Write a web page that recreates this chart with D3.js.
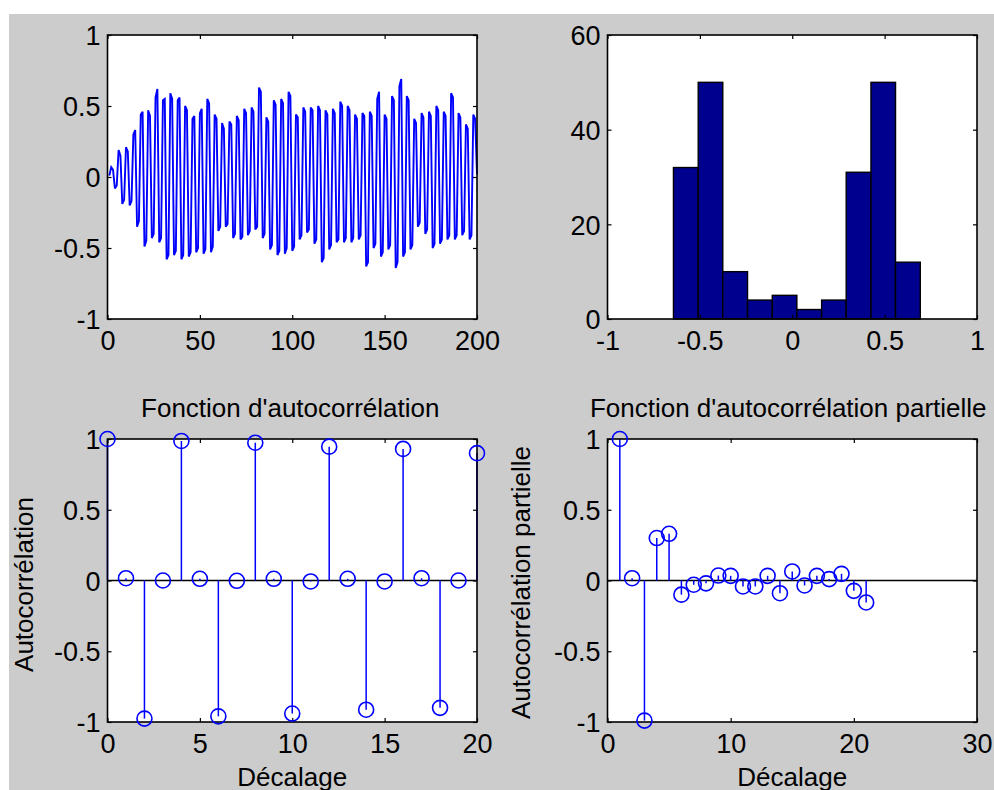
<!DOCTYPE html>
<html>
<head>
<meta charset="utf-8">
<title>Signal, histogramme et autocorrélations</title>
<script src="https://cdn.jsdelivr.net/npm/d3@7/dist/d3.min.js"></script>
<style>
body { margin: 0; background: #fff; }
svg { display: block; }
text { font-family: "Liberation Sans", Arial, Helvetica, sans-serif; font-size: 26px; fill: #000; }
.tick text { font-size: 27px; }
</style>
</head>
<body>
<svg id="fig" width="994" height="790"></svg>
<script>

// signal (200 samples)
var signal = [
  0.01,
  0.07, 0.05, -0.08, -0.06,
  0.19, 0.15, -0.19, -0.16,
  0.21, 0.18, -0.20, -0.17,
  0.30, 0.33, -0.35, -0.31,
  0.44, 0.46, -0.49, -0.45,
  0.47, 0.43, -0.43, -0.40,
  0.56, 0.62, -0.46, -0.43,
  0.54, 0.55, -0.58, -0.55,
  0.59, 0.55, -0.55, -0.52,
  0.54, 0.56, -0.58, -0.55,
  0.50, 0.47, -0.56, -0.53,
  0.41, 0.43, -0.53, -0.50,
  0.45, 0.48, -0.54, -0.51,
  0.55, 0.52, -0.53, -0.49,
  0.44, 0.41, -0.38, -0.35,
  0.38, 0.34, -0.35, -0.33,
  0.39, 0.37, -0.43, -0.40,
  0.43, 0.40, -0.44, -0.42,
  0.48, 0.45, -0.41, -0.38,
  0.49, 0.46, -0.37, -0.35,
  0.63, 0.60, -0.43, -0.40,
  0.42, 0.39, -0.51, -0.48,
  0.54, 0.51, -0.55, -0.52,
  0.55, 0.52, -0.54, -0.50,
  0.60, 0.57, -0.52, -0.49,
  0.44, 0.42, -0.44, -0.41,
  0.49, 0.46, -0.39, -0.37,
  0.49, 0.47, -0.47, -0.44,
  0.50, 0.47, -0.60, -0.57,
  0.47, 0.44, -0.51, -0.48,
  0.48, 0.45, -0.46, -0.44,
  0.53, 0.50, -0.46, -0.43,
  0.50, 0.47, -0.46, -0.43,
  0.44, 0.41, -0.44, -0.41,
  0.45, 0.43, -0.63, -0.60,
  0.46, 0.43, -0.50, -0.47,
  0.55, 0.60, -0.56, -0.53,
  0.44, 0.41, -0.51, -0.48,
  0.57, 0.54, -0.64, -0.60,
  0.64, 0.69, -0.56, -0.53,
  0.57, 0.54, -0.51, -0.48,
  0.41, 0.38, -0.35, -0.32,
  0.45, 0.42, -0.40, -0.37,
  0.46, 0.43, -0.50, -0.47,
  0.50, 0.47, -0.47, -0.44,
  0.46, 0.43, -0.44, -0.41,
  0.59, 0.56, -0.44, -0.41,
  0.45, 0.42, -0.41, -0.38,
  0.37, 0.34, -0.44, -0.41,
  0.44, 0.41,
  0.02
];

// histogram of the signal
var histEdges = [-0.643, -0.509, -0.376, -0.242, -0.108, 0.025, 0.159, 0.292, 0.426, 0.559, 0.693];
var histCounts = [32, 50, 10, 4, 5, 2, 4, 31, 50, 12];

// autocorrelation, lags 0..20
var acfLags = d3.range(0, 21);
var acfValues = [1.00, 0.016, -0.976, 0.00, 0.986, 0.012, -0.96, -0.002, 0.974, 0.012, -0.94,
                 -0.007, 0.946, 0.012, -0.913, -0.007, 0.93, 0.016, -0.90, 0.00, 0.90];

// partial autocorrelation, plotted at 1..21
var pacfLags = d3.range(1, 22);
var pacfValues = [1.00, 0.016, -0.99, 0.30, 0.33, -0.10, -0.03, -0.02, 0.035, 0.033, -0.042,
                  -0.042, 0.033, -0.09, 0.064, -0.035, 0.033, 0.01, 0.047, -0.073, -0.155];

// tick labels
var sigXTicks = [0, 50, 100, 150, 200];
var corrYTicks = [-1, -0.5, 0, 0.5, 1];
var histXTicks = [-1, -0.5, 0, 0.5, 1];
var histYTicks = [0, 20, 40, 60];
var acfXTicks = [0, 5, 10, 15, 20];
var pacfXTicks = [0, 10, 20, 30];

var svg = d3.select("#fig");

// grey figure area
svg.append("rect")
  .attr("x", 9).attr("y", 14)
  .attr("width", 994 - 9).attr("height", 790 - 14)
  .attr("fill", "#cccccc");

var cols = [[107.5, 477], [607.5, 977]];
var rows = [[35, 319], [439, 722]];

function makeAxes(col, row, xDomain, yDomain, xTicks, yTicks) {
  var x = d3.scaleLinear().domain(xDomain).range(col);
  var y = d3.scaleLinear().domain(yDomain).range([row[1], row[0]]);
  var g = svg.append("g");
  g.append("rect")
    .attr("x", col[0]).attr("y", row[0])
    .attr("width", col[1] - col[0]).attr("height", row[1] - row[0])
    .attr("fill", "#fff");
  var plot = g.append("g");
  var fmt = function(d){ return String(d); };

  var bottom = g.append("g").attr("transform", "translate(0," + row[1] + ")")
    .call(d3.axisBottom(x).tickValues(xTicks).tickSize(-4).tickPadding(12).tickFormat(fmt));
  var top = g.append("g").attr("transform", "translate(0," + row[0] + ")")
    .call(d3.axisTop(x).tickValues(xTicks).tickSize(-4).tickFormat(""));
  var left = g.append("g").attr("transform", "translate(" + col[0] + ",0)")
    .call(d3.axisLeft(y).tickValues(yTicks).tickSize(-4).tickPadding(7).tickFormat(fmt));
  var right = g.append("g").attr("transform", "translate(" + col[1] + ",0)")
    .call(d3.axisRight(y).tickValues(yTicks).tickSize(-4).tickFormat(""));

  [bottom, top, left, right].forEach(function(a){
    a.select(".domain").remove();
    a.selectAll("line").attr("stroke", "#000").attr("stroke-width", 1.2);
    a.selectAll("text").attr("font-size", null).attr("font-family", null).attr("fill", "#000");
  });
  left.selectAll("text").attr("dy", "0.36em");

  g.append("rect")
    .attr("x", col[0]).attr("y", row[0])
    .attr("width", col[1] - col[0]).attr("height", row[1] - row[0])
    .attr("fill", "none").attr("stroke", "#000").attr("stroke-width", 1.6);

  return {x: x, y: y, plot: plot, g: g};
}

// top left: signal
var a1 = makeAxes(cols[0], rows[0], [0, 200], [-1, 1], sigXTicks, corrYTicks);
a1.plot.append("path")
  .datum(signal)
  .attr("fill", "none")
  .attr("stroke", "#0000ff")
  .attr("stroke-width", 1.9)
  .attr("stroke-linejoin", "miter")
  .attr("stroke-miterlimit", 3)
  .attr("d", d3.line()
    .x(function(d, i){ return a1.x(i + 1); })
    .y(function(d){ return a1.y(d); }));

// top right: histogram
var a2 = makeAxes(cols[1], rows[0], [-1, 1], [0, 60], histXTicks, histYTicks);
a2.plot.selectAll("rect.bar")
  .data(histCounts)
  .enter().append("rect")
  .attr("class", "bar")
  .attr("x", function(d, i){ return a2.x(histEdges[i]); })
  .attr("width", function(d, i){ return a2.x(histEdges[i + 1]) - a2.x(histEdges[i]); })
  .attr("y", function(d){ return a2.y(d); })
  .attr("height", function(d){ return a2.y(0) - a2.y(d); })
  .attr("fill", "#00008f")
  .attr("stroke", "#000")
  .attr("stroke-width", 1.4);

// stem plot helper for the correlation panels
function stems(a, lags, vals) {
  a.plot.append("line")
    .attr("x1", a.x.range()[0]).attr("x2", a.x.range()[1])
    .attr("y1", a.y(0)).attr("y2", a.y(0))
    .attr("stroke", "#000").attr("stroke-width", 1.6);
  a.plot.selectAll("line.stem")
    .data(vals)
    .enter().append("line")
    .attr("class", "stem")
    .attr("x1", function(d, i){ return a.x(lags[i]); })
    .attr("x2", function(d, i){ return a.x(lags[i]); })
    .attr("y1", a.y(0))
    .attr("y2", function(d){ return a.y(d); })
    .attr("stroke", "#0000ff").attr("stroke-width", 1.5);
  a.g.selectAll("circle.mk")
    .data(vals)
    .enter().append("circle")
    .attr("class", "mk")
    .attr("cx", function(d, i){ return a.x(lags[i]); })
    .attr("cy", function(d){ return a.y(d); })
    .attr("r", 7.5)
    .attr("fill", "none")
    .attr("stroke", "#0000ff").attr("stroke-width", 1.6);
}

// bottom left: autocorrelation
var a3 = makeAxes(cols[0], rows[1], [0, 20], [-1, 1], acfXTicks, corrYTicks);
stems(a3, acfLags, acfValues);

// bottom right: partial autocorrelation
var a4 = makeAxes(cols[1], rows[1], [0, 30], [-1, 1], pacfXTicks, corrYTicks);
stems(a4, pacfLags, pacfValues);

// titles and axis labels
svg.append("text")
  .attr("x", (cols[0][0] + cols[0][1]) / 2 - 2).attr("y", rows[1][0] - 22)
  .attr("text-anchor", "middle")
  .text("Fonction d'autocorrélation");
svg.append("text")
  .attr("x", (cols[1][0] + cols[1][1]) / 2 - 4).attr("y", rows[1][0] - 22)
  .attr("text-anchor", "middle")
  .text("Fonction d'autocorrélation partielle");

[cols[0], cols[1]].forEach(function(c){
  svg.append("text")
    .attr("x", (c[0] + c[1]) / 2).attr("y", rows[1][1] + 64)
    .attr("text-anchor", "middle")
    .text("Décalage");
});

svg.append("text")
  .attr("transform", "translate(" + (cols[0][0] - 75) + "," + ((rows[1][0] + rows[1][1]) / 2 + 4) + ") rotate(-90)")
  .attr("text-anchor", "middle")
  .text("Autocorrélation");
svg.append("text")
  .attr("transform", "translate(" + (cols[1][0] - 78) + "," + ((rows[1][0] + rows[1][1]) / 2 + 2) + ") rotate(-90)")
  .attr("text-anchor", "middle")
  .text("Autocorrélation partielle");

</script>
</body>
</html>
